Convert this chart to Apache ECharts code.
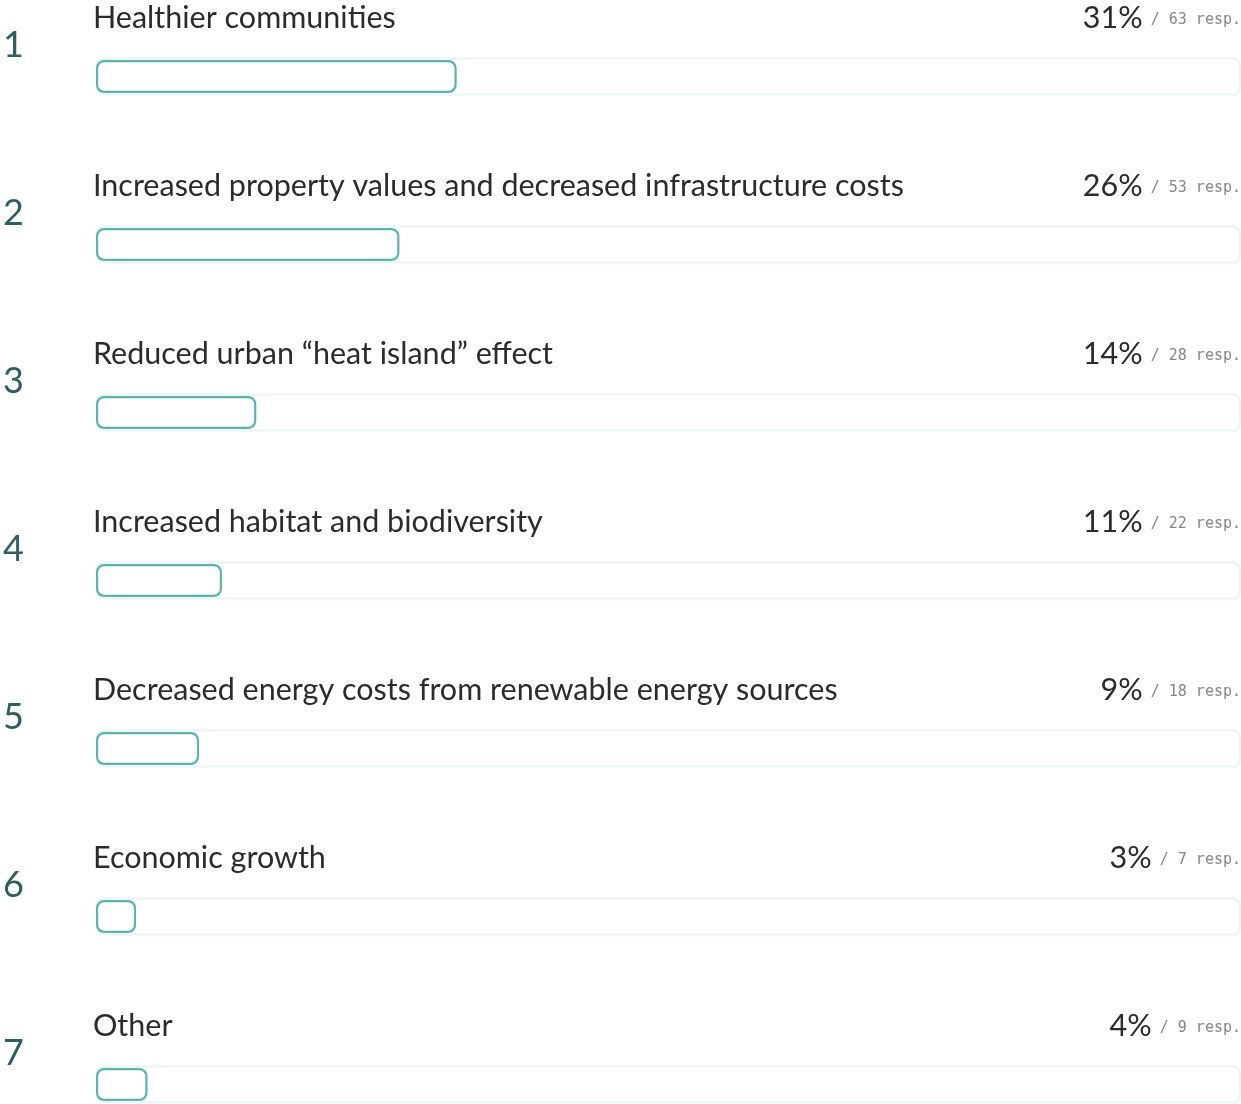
<!DOCTYPE html>
<html><head><meta charset="utf-8">
<script src="https://cdn.jsdelivr.net/npm/echarts@6/dist/echarts.min.js"></script>
<style>html,body{margin:0;padding:0;background:#fff}#c{width:1241px;height:1104px}</style>
</head><body><div id="c"></div>
<script>
const ranks = ['1', '2', '3', '4', '5', '6', '7'];
const categories = [
  'Healthier communities',
  'Increased property values and decreased infrastructure costs',
  'Reduced urban \u201cheat island\u201d effect',
  'Increased habitat and biodiversity',
  'Decreased energy costs from renewable energy sources',
  'Economic growth',
  'Other'
];
const responses = [63, 53, 28, 22, 18, 7, 9];
const percents = [31, 26, 14, 11, 9, 3, 4];
const totalResponses = 200;
const trackValues = categories.map(() => totalResponses);

const chart = echarts.init(document.getElementById('c'), null, {renderer: 'canvas'});
const FONT = 'Lato';
chart.setOption({
  animation: false,
  grid: {left: 96, right: 0, top: -7.5, height: 1176, containLabel: false, outerBoundsMode: 'none'},
  xAxis: {type: 'value', min: 0, max: totalResponses, show: false},
  yAxis: [
    {type: 'category', data: categories, inverse: true, show: false},
    {type: 'category', data: categories, inverse: true, show: false}
  ],
  series: [
    {
      type: 'bar', yAxisIndex: 1, data: trackValues, barWidth: 38, silent: true, z: 1,
      itemStyle: {color: '#ffffff', borderColor: '#e9f4f4', borderWidth: 2, borderRadius: 7},
      label: {
        show: true, position: [-3, -39.5], align: 'left', verticalAlign: 'middle',
        formatter: p => categories[p.dataIndex],
        fontFamily: FONT, fontSize: 30.5, color: '#2b2b2b'
      }
    },
    {
      type: 'bar', yAxisIndex: 1, data: trackValues, barWidth: 38, barGap: '-100%', silent: true, z: 2,
      itemStyle: {color: 'rgba(0,0,0,0)'},
      label: {
        show: true, position: ['100%', -39.5], align: 'right', verticalAlign: 'middle',
        formatter: p => '{p|' + percents[p.dataIndex] + '%}{r|/ ' + responses[p.dataIndex] + ' resp.}',
        rich: {
          p: {fontFamily: FONT, fontSize: 30.5, color: '#2b2b2b', verticalAlign: 'bottom'},
          r: {fontFamily: 'DejaVu Sans Mono', fontSize: 15, color: '#858585', verticalAlign: 'bottom',
              padding: [0, 0, 6, 8]}
        }
      }
    },
    {
      type: 'bar', yAxisIndex: 0, data: responses, barWidth: 33, silent: true, z: 3,
      itemStyle: {color: '#ffffff', borderColor: '#5ab5af', borderWidth: 2.2, borderRadius: 7},
      label: {
        show: true, position: [-93, -15], align: 'left', verticalAlign: 'middle',
        formatter: p => ranks[p.dataIndex],
        fontFamily: FONT, fontSize: 36, color: '#2e5f5c'
      }
    }
  ]
});
</script>
</body></html>
